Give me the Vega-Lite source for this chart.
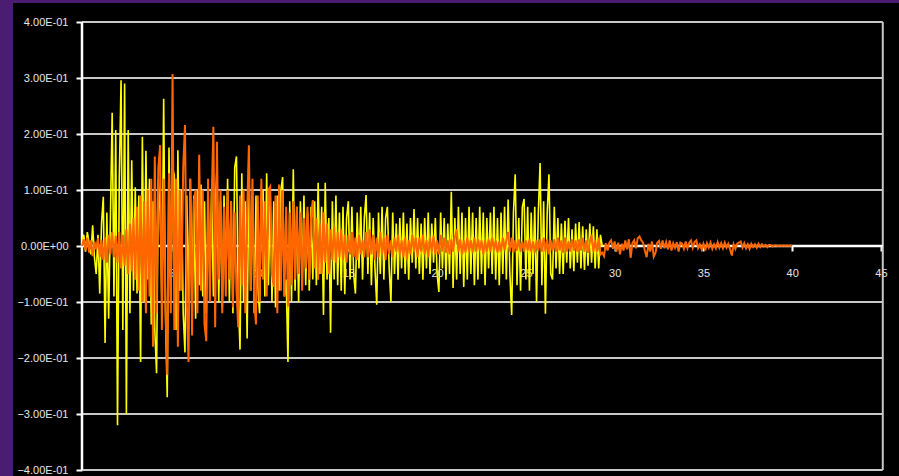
{
"$schema": "https://vega.github.io/schema/vega-lite/v6.json",
"width": 886,
"height": 473,
"autosize": "none",
"padding": {"left": 13, "top": 3, "right": 0, "bottom": 0},
"background": "#4a1c72",
"config": {"view": {"fill": "#000000", "stroke": null}},
"datasets": {
"grid": [{"g":-0.4},{"g":-0.3},{"g":-0.2},{"g":-0.1},{"g":0.1},{"g":0.2},{"g":0.3},{"g":0.4}],
"wave": [
{"t":0,"y":0.01,"o":0},{"t":0.1,"y":0.02,"o":0.012},{"t":0.2,"y":-0.01,"o":-0.008},{"t":0.3,"y":0.025,"o":0.015},{"t":0.4,"y":0.005,"o":-0.012},{"t":0.5,"y":-0.015,"o":0.01},{"t":0.6,"y":0.037,"o":-0.018},{"t":0.7,"y":-0.02,"o":0.008},{"t":0.8,"y":-0.05,"o":-0.006},{"t":0.9,"y":0.02,"o":0.014},
{"t":1,"y":-0.085,"o":-0.02},{"t":1.1,"y":0.04,"o":0.01},{"t":1.2,"y":0.088,"o":-0.025},{"t":1.3,"y":-0.173,"o":0.015},{"t":1.4,"y":0.06,"o":-0.03},{"t":1.5,"y":-0.13,"o":0.02},{"t":1.6,"y":0.05,"o":-0.015},{"t":1.7,"y":0.238,"o":0.025},{"t":1.8,"y":-0.09,"o":-0.02},{"t":1.9,"y":0.207,"o":0.018},
{"t":2,"y":-0.32,"o":-0.03},{"t":2.1,"y":0.12,"o":0.025},{"t":2.2,"y":0.296,"o":-0.04},{"t":2.3,"y":-0.15,"o":0.02},{"t":2.4,"y":0.29,"o":-0.035},{"t":2.5,"y":-0.3,"o":0.03},{"t":2.6,"y":0.207,"o":-0.05},{"t":2.7,"y":-0.12,"o":0.04},{"t":2.8,"y":0.153,"o":-0.045},{"t":2.9,"y":-0.08,"o":0.05},
{"t":3,"y":0.105,"o":-0.06},{"t":3.1,"y":-0.085,"o":0.07},{"t":3.2,"y":0.09,"o":-0.08},{"t":3.3,"y":-0.207,"o":0.09},{"t":3.4,"y":0.195,"o":-0.1},{"t":3.5,"y":-0.1,"o":0.08},{"t":3.6,"y":0.17,"o":-0.12},{"t":3.7,"y":-0.06,"o":0.1},{"t":3.8,"y":0.12,"o":-0.09},{"t":3.9,"y":-0.14,"o":0.12},
{"t":4,"y":0.08,"o":-0.18},{"t":4.1,"y":-0.15,"o":0.16},{"t":4.2,"y":-0.227,"o":-0.12},{"t":4.3,"y":0.12,"o":0.14},{"t":4.4,"y":0.06,"o":0.18},{"t":4.5,"y":-0.1,"o":-0.15},{"t":4.6,"y":0.263,"o":0.12},{"t":4.7,"y":-0.12,"o":-0.1},{"t":4.8,"y":-0.27,"o":-0.23},{"t":4.9,"y":0.176,"o":0.13},
{"t":5,"y":-0.1,"o":-0.12},{"t":5.1,"y":0.14,"o":0.307},{"t":5.2,"y":0.126,"o":-0.15},{"t":5.3,"y":-0.15,"o":0.12},{"t":5.4,"y":0.171,"o":-0.18},{"t":5.5,"y":-0.08,"o":0.1},{"t":5.6,"y":0.1,"o":-0.08},{"t":5.7,"y":-0.12,"o":0.14},{"t":5.8,"y":-0.19,"o":0.216},{"t":5.9,"y":0.09,"o":-0.1},
{"t":6,"y":-0.1,"o":-0.207},{"t":6.1,"y":0.12,"o":0.12},{"t":6.2,"y":-0.08,"o":-0.16},{"t":6.3,"y":0.09,"o":0.08},{"t":6.4,"y":-0.13,"o":0.1},{"t":6.5,"y":0.1,"o":-0.12},{"t":6.6,"y":-0.07,"o":0.163},{"t":6.7,"y":0.11,"o":-0.08},{"t":6.8,"y":-0.09,"o":0.1},{"t":6.9,"y":0.08,"o":-0.14},
{"t":7,"y":-0.12,"o":-0.17},{"t":7.1,"y":0.08,"o":0.12},{"t":7.2,"y":-0.06,"o":-0.1},{"t":7.3,"y":0.1,"o":0.08},{"t":7.4,"y":-0.09,"o":0.213},{"t":7.5,"y":0.07,"o":-0.145},{"t":7.6,"y":0.136,"o":0.186},{"t":7.7,"y":-0.1,"o":-0.06},{"t":7.8,"y":0.08,"o":0.1},{"t":7.9,"y":-0.11,"o":-0.12},
{"t":8,"y":0.09,"o":0.07},{"t":8.1,"y":-0.07,"o":-0.09},{"t":8.2,"y":0.12,"o":0.1},{"t":8.3,"y":-0.1,"o":-0.06},{"t":8.4,"y":0.08,"o":0.08},{"t":8.5,"y":-0.12,"o":-0.11},{"t":8.6,"y":0.14,"o":0.06},{"t":8.7,"y":0.16,"o":-0.08},{"t":8.8,"y":-0.09,"o":-0.145},{"t":8.9,"y":-0.185,"o":0.09},
{"t":9,"y":0.13,"o":-0.07},{"t":9.1,"y":-0.1,"o":0.1},{"t":9.2,"y":0.08,"o":-0.12},{"t":9.3,"y":-0.165,"o":0.06},{"t":9.4,"y":0.136,"o":0.18},{"t":9.5,"y":-0.08,"o":-0.08},{"t":9.6,"y":0.1,"o":0.12},{"t":9.7,"y":-0.12,"o":-0.1},{"t":9.8,"y":0.09,"o":-0.14},{"t":9.9,"y":-0.07,"o":0.09},
{"t":10,"y":-0.12,"o":-0.1},{"t":10.1,"y":0.08,"o":0.12},{"t":10.2,"y":0.1,"o":-0.06},{"t":10.3,"y":-0.09,"o":0.08},{"t":10.4,"y":0.13,"o":-0.09},{"t":10.5,"y":-0.07,"o":0.1},{"t":10.6,"y":0.09,"o":0.106},{"t":10.7,"y":-0.1,"o":-0.05},{"t":10.8,"y":0.08,"o":-0.073},{"t":10.9,"y":-0.11,"o":0.09},
{"t":11,"y":0.09,"o":-0.12},{"t":11.1,"y":-0.08,"o":0.11},{"t":11.2,"y":0.1,"o":-0.08},{"t":11.3,"y":0.123,"o":0.1},{"t":11.4,"y":-0.09,"o":-0.09},{"t":11.5,"y":-0.06,"o":0.07},{"t":11.6,"y":-0.207,"o":-0.108},{"t":11.7,"y":0.08,"o":0.06},{"t":11.8,"y":-0.1,"o":-0.07},{"t":11.9,"y":0.137,"o":0.08},
{"t":12,"y":-0.08,"o":-0.06},{"t":12.1,"y":0.07,"o":0.07},{"t":12.2,"y":-0.1,"o":-0.05},{"t":12.3,"y":0.08,"o":0.06},{"t":12.4,"y":-0.06,"o":-0.08},{"t":12.5,"y":0.09,"o":0.05},{"t":12.6,"y":-0.07,"o":-0.04},{"t":12.7,"y":0.06,"o":0.07},{"t":12.8,"y":-0.08,"o":-0.06},{"t":12.9,"y":0.07,"o":0.05},
{"t":13,"y":-0.06,"o":0.082},{"t":13.1,"y":0.08,"o":-0.04},{"t":13.2,"y":-0.07,"o":0.05},{"t":13.3,"y":0.113,"o":-0.06},{"t":13.4,"y":-0.05,"o":0.04},{"t":13.5,"y":0.07,"o":-0.05},{"t":13.6,"y":-0.123,"o":0.06},{"t":13.7,"y":0.113,"o":-0.03},{"t":13.8,"y":-0.06,"o":0.04},{"t":13.9,"y":0.05,"o":-0.05},
{"t":14,"y":-0.155,"o":0.03},{"t":14.1,"y":0.08,"o":-0.025},{"t":14.2,"y":-0.06,"o":0.035},{"t":14.3,"y":0.09,"o":-0.03},{"t":14.4,"y":-0.07,"o":0.025},{"t":14.5,"y":0.06,"o":-0.02},{"t":14.6,"y":-0.08,"o":0.03},{"t":14.7,"y":0.07,"o":-0.025},{"t":14.8,"y":-0.086,"o":0.02},{"t":14.9,"y":0.05,"o":-0.03},
{"t":15,"y":0.08,"o":0.02},{"t":15.1,"y":-0.06,"o":-0.015},{"t":15.2,"y":0.07,"o":0.025},{"t":15.3,"y":-0.05,"o":-0.02},{"t":15.4,"y":-0.085,"o":0.015},{"t":15.5,"y":0.06,"o":-0.025},{"t":15.6,"y":-0.04,"o":0.02},{"t":15.7,"y":0.07,"o":-0.015},{"t":15.8,"y":-0.06,"o":0.01},{"t":15.9,"y":0.05,"o":-0.02},
{"t":16,"y":0.091,"o":0.025},{"t":16.1,"y":-0.05,"o":-0.02},{"t":16.2,"y":0.06,"o":0.03},{"t":16.3,"y":-0.07,"o":-0.015},{"t":16.4,"y":0.05,"o":0.02},{"t":16.5,"y":-0.04,"o":-0.025},{"t":16.6,"y":-0.105,"o":0.015},{"t":16.7,"y":0.06,"o":-0.02},{"t":16.8,"y":-0.05,"o":0.025},{"t":16.9,"y":0.07,"o":-0.015},
{"t":17,"y":-0.06,"o":0.015},{"t":17.1,"y":0.05,"o":-0.025},{"t":17.2,"y":0.07,"o":0.02},{"t":17.3,"y":-0.04,"o":-0.015},{"t":17.4,"y":-0.1,"o":0.01},{"t":17.5,"y":0.06,"o":-0.02},{"t":17.6,"y":-0.05,"o":0.015},{"t":17.7,"y":0.04,"o":-0.01},{"t":17.8,"y":-0.06,"o":0.02},{"t":17.9,"y":0.05,"o":-0.015},
{"t":18,"y":-0.04,"o":0.01},{"t":18.1,"y":0.06,"o":-0.02},{"t":18.2,"y":-0.05,"o":0.015},{"t":18.3,"y":0.04,"o":-0.025},{"t":18.4,"y":-0.06,"o":0.01},{"t":18.5,"y":0.05,"o":-0.015},{"t":18.6,"y":-0.03,"o":0.02},{"t":18.7,"y":0.066,"o":-0.01},{"t":18.8,"y":-0.04,"o":0.015},{"t":18.9,"y":0.05,"o":-0.02},
{"t":19,"y":-0.05,"o":0.015},{"t":19.1,"y":0.04,"o":-0.01},{"t":19.2,"y":-0.06,"o":0.02},{"t":19.3,"y":0.05,"o":-0.015},{"t":19.4,"y":-0.04,"o":0.01},{"t":19.5,"y":0.06,"o":-0.02},{"t":19.6,"y":-0.05,"o":0.015},{"t":19.7,"y":0.04,"o":-0.01},{"t":19.8,"y":-0.03,"o":0.018},{"t":19.9,"y":0.05,"o":-0.015},
{"t":20,"y":-0.05,"o":0.01},{"t":20.1,"y":-0.082,"o":-0.015},{"t":20.2,"y":0.06,"o":0.02},{"t":20.3,"y":-0.04,"o":-0.01},{"t":20.4,"y":0.05,"o":0.015},{"t":20.5,"y":-0.06,"o":-0.012},{"t":20.6,"y":0.04,"o":0.01},{"t":20.7,"y":-0.05,"o":-0.015},{"t":20.8,"y":0.097,"o":0.012},{"t":20.9,"y":-0.075,"o":-0.01},
{"t":21,"y":0.05,"o":0.015},{"t":21.1,"y":-0.06,"o":0.03},{"t":21.2,"y":0.07,"o":-0.01},{"t":21.3,"y":-0.05,"o":0.012},{"t":21.4,"y":0.06,"o":-0.015},{"t":21.5,"y":-0.073,"o":0.01},{"t":21.6,"y":0.05,"o":-0.012},{"t":21.7,"y":-0.06,"o":0.015},{"t":21.8,"y":0.07,"o":-0.01},{"t":21.9,"y":-0.05,"o":0.01},
{"t":22,"y":0.06,"o":-0.012},{"t":22.1,"y":-0.07,"o":0.015},{"t":22.2,"y":0.05,"o":-0.01},{"t":22.3,"y":-0.06,"o":0.012},{"t":22.4,"y":0.07,"o":-0.008},{"t":22.5,"y":-0.05,"o":0.01},{"t":22.6,"y":0.06,"o":-0.015},{"t":22.7,"y":-0.07,"o":0.01},{"t":22.8,"y":0.05,"o":-0.01},{"t":22.9,"y":-0.04,"o":0.012},
{"t":23,"y":0.06,"o":-0.01},{"t":23.1,"y":-0.05,"o":0.015},{"t":23.2,"y":0.07,"o":-0.008},{"t":23.3,"y":-0.06,"o":0.01},{"t":23.4,"y":0.05,"o":-0.012},{"t":23.5,"y":-0.07,"o":0.008},{"t":23.6,"y":0.06,"o":-0.01},{"t":23.7,"y":-0.05,"o":0.015},{"t":23.8,"y":0.07,"o":-0.008},{"t":23.9,"y":-0.06,"o":0.01},
{"t":24,"y":0.083,"o":0.025},{"t":24.1,"y":-0.05,"o":-0.01},{"t":24.2,"y":-0.123,"o":0.015},{"t":24.3,"y":0.06,"o":-0.012},{"t":24.4,"y":0.128,"o":0.01},{"t":24.5,"y":-0.07,"o":-0.008},{"t":24.6,"y":0.05,"o":0.012},{"t":24.7,"y":-0.08,"o":-0.01},{"t":24.8,"y":0.07,"o":0.008},{"t":24.9,"y":0.084,"o":-0.01},
{"t":25,"y":-0.06,"o":0.01},{"t":25.1,"y":0.07,"o":-0.008},{"t":25.2,"y":-0.08,"o":0.012},{"t":25.3,"y":0.06,"o":-0.01},{"t":25.4,"y":-0.05,"o":0.008},{"t":25.5,"y":0.07,"o":-0.012},{"t":25.6,"y":-0.1,"o":0.01},{"t":25.7,"y":0.06,"o":-0.008},{"t":25.8,"y":0.148,"o":0.012},{"t":25.9,"y":-0.07,"o":-0.01},
{"t":26,"y":0.08,"o":0.015},{"t":26.1,"y":-0.121,"o":-0.01},{"t":26.2,"y":0.06,"o":0.012},{"t":26.3,"y":0.128,"o":-0.015},{"t":26.4,"y":-0.05,"o":0.01},{"t":26.5,"y":-0.06,"o":-0.008},{"t":26.6,"y":0.07,"o":0.012},{"t":26.7,"y":-0.04,"o":-0.01},{"t":26.8,"y":0.05,"o":0.015},{"t":26.9,"y":-0.05,"o":-0.008},
{"t":27,"y":0.04,"o":0.01},{"t":27.1,"y":-0.05,"o":-0.012},{"t":27.2,"y":0.045,"o":0.015},{"t":27.3,"y":-0.03,"o":-0.01},{"t":27.4,"y":0.05,"o":0.008},{"t":27.5,"y":-0.04,"o":-0.01},{"t":27.6,"y":0.03,"o":0.012},{"t":27.7,"y":-0.045,"o":-0.008},{"t":27.8,"y":0.04,"o":0.01},{"t":27.9,"y":-0.03,"o":-0.01},
{"t":28,"y":0.043,"o":0.012},{"t":28.1,"y":-0.04,"o":-0.008},{"t":28.2,"y":0.035,"o":0.015},{"t":28.3,"y":-0.043,"o":-0.01},{"t":28.4,"y":0.03,"o":0.01},{"t":28.5,"y":-0.035,"o":-0.012},{"t":28.6,"y":0.04,"o":0.008},{"t":28.7,"y":-0.03,"o":0.02},{"t":28.8,"y":0.035,"o":-0.01},{"t":28.9,"y":-0.04,"o":0.01},
{"t":29,"y":0.03,"o":-0.01},{"t":29.1,"y":-0.04,"o":0.015},{"t":29.2,"y":0.02,"o":-0.015},{"t":29.3,"y":0,"o":-0.012},{"t":29.4,"o":-0.018},{"t":29.5,"o":0.005},{"t":29.6,"o":-0.008},{"t":29.7,"o":0.006},{"t":29.8,"o":0.01},{"t":29.9,"o":-0.005},
{"t":30,"o":0.008},{"t":30.1,"o":-0.01},{"t":30.2,"o":0.006},{"t":30.3,"o":-0.015},{"t":30.4,"o":0.004},{"t":30.5,"o":-0.008},{"t":30.6,"o":0.01},{"t":30.7,"o":-0.006},{"t":30.8,"o":0.012},{"t":30.9,"o":-0.021},
{"t":31,"o":0.005},{"t":31.1,"o":0.01},{"t":31.2,"o":-0.004},{"t":31.3,"o":0.014},{"t":31.4,"o":0.017},{"t":31.5,"o":0.01},{"t":31.6,"o":0.006},{"t":31.7,"o":-0.008},{"t":31.8,"o":-0.02},{"t":31.9,"o":0.004},
{"t":32,"o":-0.01},{"t":32.1,"o":0.008},{"t":32.2,"o":-0.019},{"t":32.3,"o":-0.012},{"t":32.4,"o":0.006},{"t":32.5,"o":0.009},{"t":32.6,"o":-0.005},{"t":32.7,"o":0.01},{"t":32.8,"o":-0.004},{"t":32.9,"o":0.007},
{"t":33,"o":-0.006},{"t":33.1,"o":0.01},{"t":33.2,"o":-0.008},{"t":33.3,"o":0.005},{"t":33.4,"o":-0.003},{"t":33.5,"o":0.007},{"t":33.6,"o":-0.01},{"t":33.7,"o":0.006},{"t":33.8,"o":0.004},{"t":33.9,"o":-0.005},
{"t":34,"o":0.008},{"t":34.1,"o":-0.004},{"t":34.2,"o":0.006},{"t":34.3,"o":0.01},{"t":34.4,"o":-0.003},{"t":34.5,"o":0.007},{"t":34.6,"o":0.01},{"t":34.7,"o":-0.004},{"t":34.8,"o":0.003},{"t":34.9,"o":-0.006},
{"t":35,"o":0.004},{"t":35.1,"o":-0.008},{"t":35.2,"o":0.005},{"t":35.3,"o":-0.003},{"t":35.4,"o":0.006},{"t":35.5,"o":-0.005},{"t":35.6,"o":0.003},{"t":35.7,"o":-0.004},{"t":35.8,"o":0.007},{"t":35.9,"o":-0.003},
{"t":36,"o":0.005},{"t":36.1,"o":-0.004},{"t":36.2,"o":0.006},{"t":36.3,"o":-0.003},{"t":36.4,"o":0.004},{"t":36.5,"o":-0.006},{"t":36.6,"o":-0.017},{"t":36.7,"o":0.003},{"t":36.8,"o":-0.005},{"t":36.9,"o":0.004},
{"t":37,"o":0.006},{"t":37.1,"o":0.008},{"t":37.2,"o":-0.003},{"t":37.3,"o":0.005},{"t":37.4,"o":-0.004},{"t":37.5,"o":0.003},{"t":37.6,"o":-0.005},{"t":37.7,"o":0.004},{"t":37.8,"o":-0.002},{"t":37.9,"o":0.003},
{"t":38,"o":-0.003},{"t":38.1,"o":0.004},{"t":38.2,"o":-0.002},{"t":38.3,"o":0.003},{"t":38.4,"o":-0.001},{"t":38.5,"o":0.002},{"t":38.6,"o":-0.002},{"t":38.7,"o":0.002},{"t":38.8,"o":0.001},{"t":38.9,"o":-0.001},
{"t":39,"o":0.001},{"t":39.1,"o":0.001},{"t":39.2,"o":0},{"t":39.3,"o":0.001},{"t":39.4,"o":0},{"t":39.5,"o":0.001},{"t":39.6,"o":0},{"t":39.7,"o":0.001},{"t":39.8,"o":0},{"t":39.9,"o":0.001},
{"t":40,"o":0}
]
},
"layer": [
{
"data": {"name": "grid"},
"mark": {"type": "rule", "color": "#c8c8c8", "strokeWidth": 2},
"encoding": {
"y": {"field": "g", "type": "quantitative", "title": null,
"scale": {"domain": [-0.41071, 0.43393], "nice": false, "zero": false},
"axis": {"orient": "left", "offset": -69, "values": [-0.4,-0.3,-0.2,-0.1,0,0.1,0.2,0.3,0.4], "domain": false, "grid": false, "ticks": true, "tickColor": "#ffffff", "tickSize": 6, "tickWidth": 2, "labelPadding": 8, "labelColor": "#e6e6e6", "labelFont": "Liberation Sans", "labelFontSize": 11, "labelExpr": "replace(replace(format(datum.value, '.2e'), 'e-', 'E-0'), 'e+', 'E+0')"}},
"x": {"datum": 0, "type": "quantitative", "title": null,
"scale": {"domain": [-3.886, 46.014], "nice": false, "zero": false},
"axis": {"orient": "bottom", "offset": -230, "values": [5,10,15,20,25,30,35,40,45], "domain": false, "grid": false, "ticks": true, "tickColor": "#ffffff", "tickSize": 5, "tickWidth": 2, "labelPadding": 16, "labelColor": "#e6e6e6", "labelFont": "Liberation Sans", "labelFontSize": 11, "labelFlush": false}},
"x2": {"datum": 45.1}
}
},
{
"data": {"values": [{}]},
"mark": {"type": "rule", "color": "#c8c8c8", "strokeWidth": 2},
"encoding": {
"x": {"datum": 45.1, "type": "quantitative", "title": null, "scale": {"domain": [-3.886, 46.014], "nice": false, "zero": false}},
"y": {"datum": -0.4, "type": "quantitative", "title": null, "scale": {"domain": [-0.41071, 0.43393], "nice": false, "zero": false}},
"y2": {"datum": 0.4}
}
},
{
"data": {"values": [{}]},
"mark": {"type": "rule", "color": "#ffffff", "strokeWidth": 2.5},
"encoding": {
"x": {"datum": 0, "type": "quantitative", "title": null, "scale": {"domain": [-3.886, 46.014], "nice": false, "zero": false}},
"y": {"datum": -0.4, "type": "quantitative", "title": null, "scale": {"domain": [-0.41071, 0.43393], "nice": false, "zero": false}},
"y2": {"datum": 0.4}
}
},
{
"data": {"values": [{}]},
"mark": {"type": "rule", "color": "#ffffff", "strokeWidth": 2.5},
"encoding": {
"x": {"datum": 0, "type": "quantitative", "title": null, "scale": {"domain": [-3.886, 46.014], "nice": false, "zero": false}},
"x2": {"datum": 45.1},
"y": {"datum": 0, "type": "quantitative", "title": null, "scale": {"domain": [-0.41071, 0.43393], "nice": false, "zero": false}}
}
},
{
"data": {"name": "wave"},
"mark": {"type": "line", "color": "#ffff00", "strokeWidth": 1.6},
"encoding": {
"x": {"field": "t", "type": "quantitative", "title": null, "scale": {"domain": [-3.886, 46.014], "nice": false, "zero": false}},
"y": {"field": "y", "type": "quantitative", "title": null, "scale": {"domain": [-0.41071, 0.43393], "nice": false, "zero": false}}
}
},
{
"data": {"name": "wave"},
"mark": {"type": "line", "color": "#ff6600", "strokeWidth": 2},
"encoding": {
"x": {"field": "t", "type": "quantitative", "title": null, "scale": {"domain": [-3.886, 46.014], "nice": false, "zero": false}},
"y": {"field": "o", "type": "quantitative", "title": null, "scale": {"domain": [-0.41071, 0.43393], "nice": false, "zero": false}}
}
}
]
}
